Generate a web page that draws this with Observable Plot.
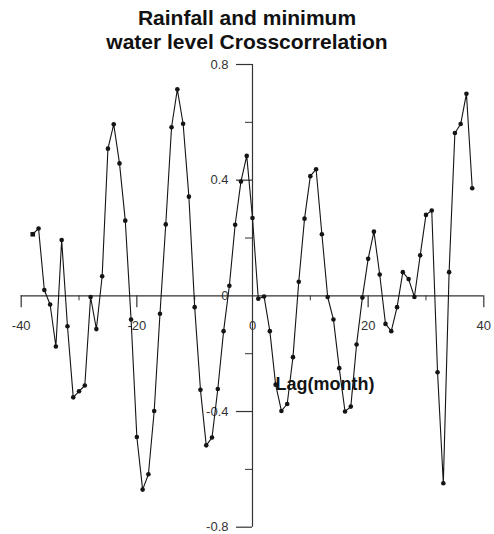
<!DOCTYPE html>
<html><head><meta charset="utf-8">
<script src="https://cdn.jsdelivr.net/npm/d3@7"></script>
<script src="https://cdn.jsdelivr.net/npm/@observablehq/plot@0.6"></script>
<style>
body{margin:0;background:#fff;}
#wrap{position:relative;width:494px;height:534px;}
#title{position:absolute;left:0;top:6px;width:494px;text-align:center;font:bold 21px/24px "Liberation Sans",Arial,sans-serif;color:#111;z-index:1;}
</style></head><body>
<div id="wrap"><div id="title">Rainfall and minimum<br>water level Crosscorrelation</div></div>
<script>
const lags = [-38,-37,-36,-35,-34,-33,-32,-31,-30,-29,-28,-27,-26,-25,-24,-23,-22,-21,-20,-19,-18,-17,-16,-15,-14,-13,-12,-11,-10,-9,-8,-7,-6,-5,-4,-3,-2,-1,0,1,2,3,4,5,6,7,8,9,10,11,12,13,14,15,16,17,18,19,20,21,22,23,24,25,26,27,28,29,30,31,32,33,34,35,36,37,38];
const ccf = [0.213,0.233,0.020,-0.030,-0.175,0.193,-0.105,-0.351,-0.330,-0.310,-0.004,-0.115,0.068,0.509,0.593,0.458,0.260,-0.082,-0.488,-0.670,-0.617,-0.398,-0.062,0.247,0.583,0.714,0.595,0.343,-0.039,-0.325,-0.517,-0.490,-0.322,-0.122,0.035,0.246,0.395,0.484,0.269,-0.010,-0.002,-0.122,-0.307,-0.398,-0.374,-0.212,0.049,0.267,0.414,0.438,0.213,-0.004,-0.082,-0.250,-0.400,-0.383,-0.168,-0.006,0.128,0.222,0.074,-0.097,-0.122,-0.039,0.082,0.058,-0.004,0.140,0.280,0.295,-0.264,-0.648,0.082,0.563,0.594,0.699,0.372];
const xMajorTicks = [-40,-20,20,40];
const xMinorTicks = [-30,-10,10,30];
const xTickLabels = [-40,-20,0,20,40];
const yMajorTicks = [0.8,0.4,-0.4,-0.8];
const yMinorTicks = [0.6,0.2,-0.2,-0.6];
const yTickLabels = [0.8,0.4,0,-0.4,-0.8];
const xAxisLabel = ["Lag(month)"];

const data = lags.map((l,i)=>({lag:l, r:ccf[i]}));
const ink = "#141414";
const plot = Plot.plot({
  width:494, height:534,
  marginTop:64, marginBottom:7.3, marginLeft:20.7, marginRight:10.7,
  x:{domain:[-40,40], axis:null},
  y:{domain:[-0.8,0.8], axis:null},
  style:{background:"transparent", fontFamily:"'Liberation Sans', Arial, sans-serif"},
  marks:[
    Plot.ruleY([0], {stroke:"#333", strokeWidth:1.2}),
    Plot.ruleX([0], {stroke:"#333", strokeWidth:1.2}),
    Plot.ruleX(xMajorTicks, {x:d=>d, y1:0, y2:0, insetBottom:-12, stroke:"#333", strokeWidth:1.2}),
    Plot.ruleX(xMinorTicks, {x:d=>d, y1:0, y2:0, insetBottom:-5, stroke:"#333", strokeWidth:1}),
    Plot.ruleY(yMajorTicks, {y:d=>d, x1:0, x2:0, insetLeft:-16, stroke:"#333", strokeWidth:1.2}),
    Plot.ruleY(yMinorTicks, {y:d=>d, x1:0, x2:0, insetLeft:-7, stroke:"#333", strokeWidth:1}),
    Plot.text(xTickLabels, {x:d=>d, y:0, dy:30, text:d=>String(d), fontSize:13, fill:"#333"}),
    Plot.text(yTickLabels, {x:0, y:d=>d, dx:-24, textAnchor:"end", text:d=>String(d), fontSize:13, fill:"#333"}),
    Plot.line(data, {x:"lag", y:"r", stroke:ink, strokeWidth:1.1}),
    Plot.dot(data.slice(1), {x:"lag", y:"r", r:2.3, fill:ink, stroke:"none"}),
    Plot.dot(data.slice(0,1), {x:"lag", y:"r", r:2.6, symbol:"square", fill:ink, stroke:"none"}),
    Plot.text(xAxisLabel, {x:0, y:0, dx:23, dy:88, textAnchor:"start", text:d=>d, fontSize:18, fontWeight:"bold", fill:ink})
  ]
});
document.getElementById("wrap").appendChild(plot);
</script>
</body></html>
